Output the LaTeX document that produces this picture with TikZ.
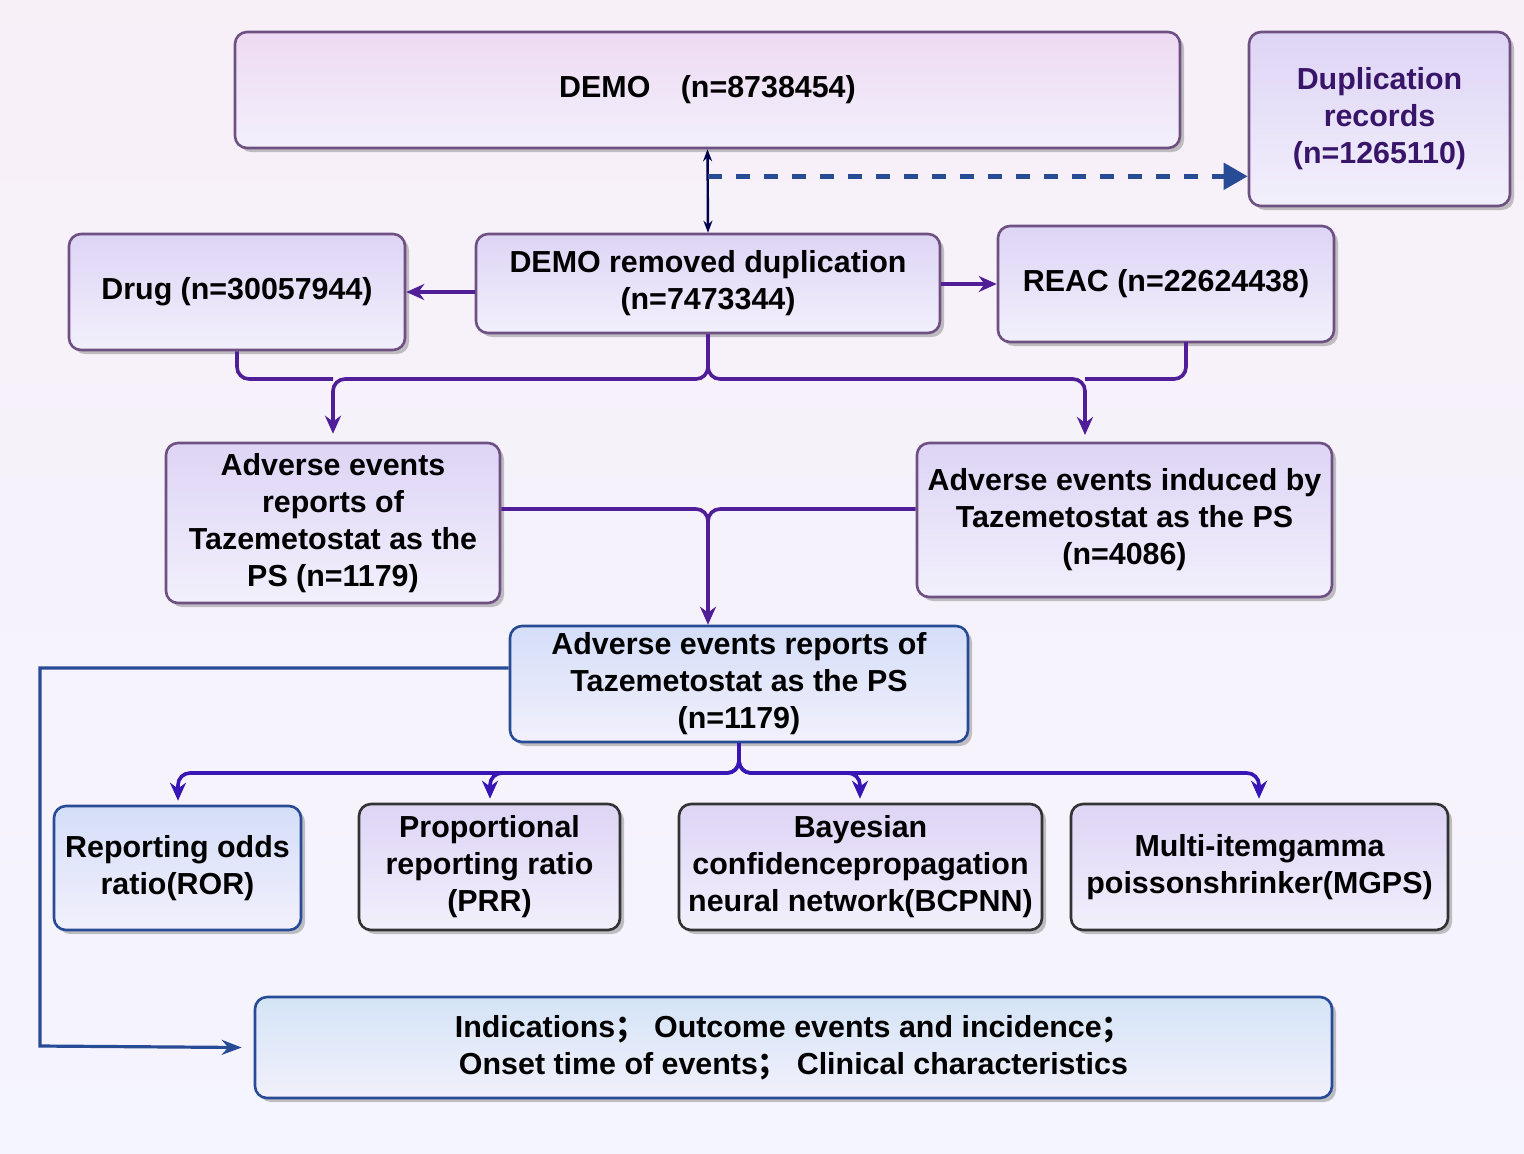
\documentclass[tikz,border=0pt]{standalone}
\usepackage{fontspec}
\setmainfont{Liberation Sans}
\newfontfamily\cjk{Noto Sans CJK SC}
\usetikzlibrary{shadows,arrows.meta,calc}
\definecolor{pl}{RGB}{80,30,150}
\definecolor{bl}{RGB}{40,75,150}
\definecolor{bd}{RGB}{110,80,130}
\definecolor{ft}{RGB}{222,212,245}
\definecolor{fb}{RGB}{242,240,252}
\definecolor{pt}{RGB}{238,218,242}
\definecolor{bt}{RGB}{212,222,248}
\definecolor{ct}{RGB}{212,228,246}
\begin{document}
\begin{tikzpicture}[x=0.5pt,y=-0.5pt,
  box/.style={draw=#1,line width=1.3pt,rounded corners=6pt,align=center,
    font=\bfseries\fontsize{15.2}{18.5}\selectfont,inner sep=1pt,
    drop shadow={shadow xshift=2pt,shadow yshift=-2pt,fill=black!40,opacity=.6}},
  pbox/.style={box=bd,top color=pt,bottom color=fb},
  ibox/.style={box=bd,top color=ft,bottom color=fb},
  bbox/.style={box=bl,top color=bt,bottom color=fb},
  pline/.style={draw=pl,line width=1.8pt,rounded corners=6pt},
  pa/.style={pline,-{Stealth[length=9pt,width=8pt]}},
  bline/.style={draw=bl,line width=1.6pt},
]
\fill[top color=violet!6,bottom color=blue!4!white] (0,0) rectangle (1524,1153);
\useasboundingbox (0,0) rectangle (1524,1153);

\node[pbox,minimum width=472.5pt,minimum height=58pt] (demo) at (707.5,90) {DEMO\quad(n=8738454)};
\node[ibox,minimum width=130.5pt,minimum height=87pt,text=pl!70!black] (dup) at (1379.5,119) {Duplication\\records\\(n=1265110)};
\node[ibox,minimum width=232pt,minimum height=49.5pt] (rem) at (708,283.5) {DEMO removed duplication\\(n=7473344)};
\node[ibox,minimum width=168pt,minimum height=58pt] (drug) at (237,292) {Drug (n=30057944)};
\node[ibox,minimum width=168pt,minimum height=58pt] (reac) at (1166,284) {REAC (n=22624438)};
\node[ibox,minimum width=167pt,minimum height=80pt] (ael) at (333,523) {Adverse events\\reports of\\Tazemetostat as the\\PS (n=1179)};
\node[ibox,minimum width=207.5pt,minimum height=77pt] (aer) at (1124.5,520) {Adverse events induced by\\Tazemetostat as the PS\\(n=4086)};
\node[bbox,minimum width=229pt,minimum height=58pt] (aec) at (739,684) {Adverse events reports of\\Tazemetostat as the PS\\(n=1179)};
\node[bbox,minimum width=123.5pt,minimum height=62pt] (ror) at (177.5,868) {Reporting odds\\ratio(ROR)};
\node[ibox,draw=black!80,minimum width=130.5pt,minimum height=63pt] (prr) at (489.5,867) {Proportional\\reporting ratio\\(PRR)};
\node[ibox,draw=black!80,minimum width=181.5pt,minimum height=63pt] (bcp) at (860.5,867) {Bayesian\\confidencepropagation\\neural network(BCPNN)};
\node[ibox,draw=black!80,minimum width=188.5pt,minimum height=63pt] (mgps) at (1259.5,867) {Multi-itemgamma\\poissonshrinker(MGPS)};
\node[bbox,top color=ct,bottom color=fb,minimum width=538.5pt,minimum height=50.5pt] (bot) at (793.5,1047.5) {Indications{\cjk ；}\ Outcome events and incidence{\cjk ；}\\Onset time of events{\cjk ；}\ Clinical characteristics};

% top
\draw[line width=1.2pt,draw=blue!30!black,{Stealth[length=6pt]}-{Stealth[length=6pt]}] (demo.south) -- (rem.north);
\coordinate (d0) at ($(demo.south)+(0,27)$);
\draw[bl,line width=2.5pt,dash pattern=on 7pt off 7pt,-{Triangle[length=12pt,width=13pt]}] (d0) -- (d0 -| dup.west);
\draw[pa] (rem.west |- drug.east) -- (drug.east);
\draw[pa] (rem.east |- reac.west) -- (reac.west);
% merge
\coordinate (jy) at (0,379);
\draw[pline] (drug.south) |- (ael.north |- jy) ;
\draw[pa] (rem.south) |- (ael.north |- jy) -- ($(ael.north)+(0,-8)$);
\draw[pline] (1186,342) |- (1085,379);
\draw[pa] (rem.south) |- (1085,379) -- (1085,435);
\draw[pline] (ael.east |- 0,509) -| (708,600);
\draw[pa] (aer.west |- 0,509) -| (aec.north -| 708,0) ;
% left
\coordinate (lc) at (40,1046);
\draw[bline,-{Stealth[length=10pt]}] (aec.west |- 0,668) -| (lc) -- ($(bot.west)+(-12,0)$);
% methods
\foreach \n/\x in {ror/178,prr/490,bcp/860,mgps/1259}{
  \draw[pa,draw=pl!70!blue] (aec.south) |- (\x,773) -- ($(\n.north -| \x,0)+(0,-4)$);
}
\end{tikzpicture}
\end{document}
